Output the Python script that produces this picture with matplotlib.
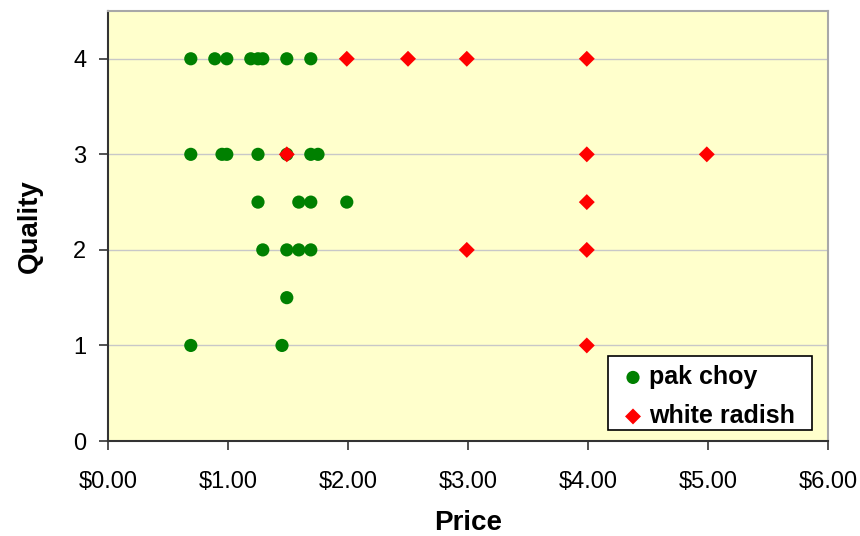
import matplotlib
matplotlib.use("Agg")
import matplotlib.pyplot as plt
from matplotlib.ticker import FuncFormatter
from matplotlib.patches import Rectangle

plt.rcParams['font.family'] = ['Liberation Sans', 'DejaVu Sans']

# Data
pak_choy_price = [0.69, 0.89, 0.99, 1.19, 1.25, 1.29, 1.49, 1.69,
                  0.69, 0.95, 0.99, 1.25, 1.49, 1.69, 1.75,
                  1.25, 1.59, 1.69, 1.99,
                  1.29, 1.49, 1.59, 1.69,
                  1.49,
                  0.69, 1.45]
pak_choy_quality = [4, 4, 4, 4, 4, 4, 4, 4,
                    3, 3, 3, 3, 3, 3, 3,
                    2.5, 2.5, 2.5, 2.5,
                    2, 2, 2, 2,
                    1.5,
                    1, 1]
radish_price = [1.99, 2.50, 2.99, 3.99,
                1.49, 3.99, 4.99,
                3.99,
                2.99, 3.99,
                3.99]
radish_quality = [4, 4, 4, 4,
                  3, 3, 3,
                  2.5,
                  2, 2,
                  1]
x_ticks = [0, 1, 2, 3, 4, 5, 6]
y_ticks = [0, 1, 2, 3, 4]

W, H = 860, 536
fig = plt.figure(figsize=(W / 100, H / 100), dpi=100)
ax = fig.add_axes([108/W, 1-441/H, 720/W, 430/H])
ax.set_facecolor('#FFFFCC')

ax.scatter(pak_choy_price, pak_choy_quality, s=90, marker='o', color='#008000',
           edgecolors='none', label='pak choy', zorder=3)
ax.scatter(radish_price, radish_quality, s=66, marker='D', color='#FF0000',
           edgecolors='none', label='white radish', zorder=4)

ax.set_xlim(0, 6)
ax.set_ylim(0, 4.5)
ax.set_xticks(x_ticks)
ax.set_yticks(y_ticks)
ax.xaxis.set_major_formatter(FuncFormatter(lambda v, p: f"${v:.2f}"))
ax.grid(axis='y', color='#C8C8C8', linewidth=1)
ax.set_axisbelow(True)

ax.tick_params(axis='both', direction='out', length=6.5, width=1.2, color='#333333',
               labelsize=17)
ax.tick_params(axis='x', pad=15)
ax.tick_params(axis='y', pad=9)

for s in ['left', 'bottom']:
    ax.spines[s].set_color('#333333')
    ax.spines[s].set_linewidth(1.5)
for s in ['top', 'right']:
    ax.spines[s].set_color('#A8A8A8')
    ax.spines[s].set_linewidth(1.5)

ax.set_xlabel('Price', fontsize=20, fontweight='bold', labelpad=12)
ax.set_ylabel('Quality', fontsize=20, fontweight='bold', labelpad=22)

# Legend frame drawn in figure pixel coordinates
def fx(px):
    return px / W

def fy(py):
    return 1 - py / H

frame = Rectangle((fx(608), fy(430)), fx(812) - fx(608), fy(356) - fy(430),
                  transform=fig.transFigure, facecolor='white', edgecolor='black',
                  linewidth=1.2, zorder=5)
ax.add_patch(frame)
frame.set_clip_on(False)

leg = ax.legend(loc='center left', bbox_to_anchor=(fx(623), fy(396.5)),
                bbox_transform=fig.transFigure, borderaxespad=0, borderpad=0,
                prop={'size': 18, 'weight': 'bold'}, frameon=False,
                handletextpad=0.24, handlelength=0.8, labelspacing=0.6,
                scatterpoints=1)
leg.set_zorder(6)

fig.savefig('out.png', dpi=100, facecolor='white')
